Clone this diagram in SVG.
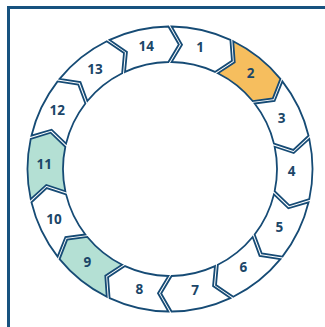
<svg xmlns="http://www.w3.org/2000/svg" width="325" height="327" viewBox="0 0 325 327">
<style>
.seg{fill:#ffffff;stroke:#164b75;stroke-width:1.8;stroke-linejoin:miter}
.orange{fill:#f6be5e}
.teal{fill:#b4e0d4}
.lbl{font-family:"Noto Sans","DejaVu Sans",sans-serif;font-weight:700;font-size:13.5px;fill:#1b4668;text-anchor:middle}
.frame{fill:none;stroke:#17527f;stroke-width:3}
</style>
<defs>
<path id="segshape" d="M1.600,-142.491 A142.5,142.5 0 0 1 60.383,-129.074 L61.959,-108.277 L44.979,-97.087 A107,107 0 0 0 1.600,-106.988 L12.032,-124.168 Z"/>
</defs>
<path class="frame" d="M8.5,327 V7.5 H325"/>
<g id="connectors"></g>
<g id="seg1"><use href="#segshape" class="seg" transform="translate(170,169) rotate(0)"/><text class="lbl" x="200" y="51.5">1</text></g>
<g id="seg2"><use href="#segshape" class="seg orange" transform="translate(170,169) rotate(25.7142857)"/><text class="lbl" x="250.7" y="77.5">2</text></g>
<g id="seg3"><use href="#segshape" class="seg" transform="translate(170,169) rotate(51.4285714)"/><text class="lbl" x="281.7" y="122.5">3</text></g>
<g id="seg4"><use href="#segshape" class="seg" transform="translate(170,169) rotate(77.1428571)"/><text class="lbl" x="291.7" y="175.8">4</text></g>
<g id="seg5"><use href="#segshape" class="seg" transform="translate(170,169) rotate(102.8571429)"/><text class="lbl" x="279.3" y="231.5">5</text></g>
<g id="seg6"><use href="#segshape" class="seg" transform="translate(170,169) rotate(128.5714286)"/><text class="lbl" x="243.3" y="271.5">6</text></g>
<g id="seg7"><use href="#segshape" class="seg" transform="translate(170,169) rotate(154.2857143)"/><text class="lbl" x="195" y="294.8">7</text></g>
<g id="seg8"><use href="#segshape" class="seg" transform="translate(170,169) rotate(180)"/><text class="lbl" x="139.3" y="293.5">8</text></g>
<g id="seg9"><use href="#segshape" class="seg teal" transform="translate(170,169) rotate(205.7142857)"/><text class="lbl" x="87.3" y="266.5">9</text></g>
<g id="seg10"><use href="#segshape" class="seg" transform="translate(170,169) rotate(231.4285714)"/><text class="lbl" x="54" y="223.8">10</text></g>
<g id="seg11"><use href="#segshape" class="seg teal" transform="translate(170,169) rotate(257.1428571)"/><text class="lbl" x="44.3" y="169.1">11</text></g>
<g id="seg12"><use href="#segshape" class="seg" transform="translate(170,169) rotate(282.8571429)"/><text class="lbl" x="57.3" y="114.8">12</text></g>
<g id="seg13"><use href="#segshape" class="seg" transform="translate(170,169) rotate(308.5714286)"/><text class="lbl" x="95" y="73.8">13</text></g>
<g id="seg14"><use href="#segshape" class="seg" transform="translate(170,169) rotate(334.2857143)"/><text class="lbl" x="146.3" y="50.8">14</text></g>
</svg>
